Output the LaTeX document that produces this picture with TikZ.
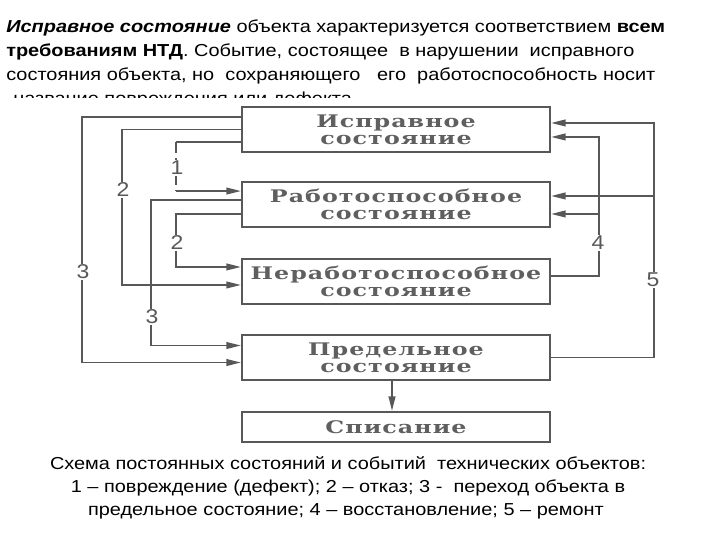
\documentclass[tikz,border=0pt]{standalone}
\usepackage{fontspec}
\setmainfont{Liberation Sans}[FakeStretch=1.15]
\newfontfamily\statefont{DejaVu Serif}[FakeStretch=1.37,LetterSpace=6]
\usetikzlibrary{arrows.meta,positioning}
\definecolor{inkgray}{RGB}{88,88,88}
\definecolor{boxtext}{RGB}{95,95,95}
\tikzset{
  statebox/.style={
    rectangle,
    draw=inkgray,
    line width=1.5pt,
    text=boxtext,
    align=center,
    minimum width=231pt,
    minimum height=33.75pt,
    inner sep=0pt,
    font=\statefont\bfseries\fontsize{13}{13}\selectfont
  },
  endbox/.style={statebox, minimum height=22.5pt},
  link/.style={-{Triangle[length=11pt,width=5pt]}, draw=inkgray, line width=1.4pt},
  bareline/.style={draw=inkgray, line width=1.4pt},
  eventnum/.style={fill=white, inner sep=1pt, text=inkgray, font=\fontsize{15}{15}\selectfont},
  textline/.style={anchor=base west, inner sep=0pt, font=\fontsize{13}{18}\selectfont},
  captionline/.style={anchor=base, inner sep=0pt, font=\fontsize{13}{18}\selectfont}
}
\begin{document}
\begin{tikzpicture}[x=0.75pt, y=-0.75pt]
  \useasboundingbox (0,0) rectangle (720,540);
  % definition above the scheme
  \node[textline] (def1) at (6,32) {\textbf{\textit{Исправное состояние}} объекта характеризуется соответствием \textbf{всем}};
  \node[textline] (def2) at (6,56) {\textbf{требованиям НТД}. Событие, состоящее\ \ в нарушении\ \ исправного};
  \node[textline] (def3) at (6,80) {состояния объекта, но\ \ сохраняющего\ \ \ его\ \ работоспособность носит};
  \begin{scope}
    \clip (0,0) rectangle (720,97);
    \node[textline] (def4) at (13,104) {название повреждения или дефекта};
  \end{scope}

  % states
  \node[statebox] (good) at (396,129.5) {Исправное\\состояние};
  \node[statebox, below=21pt of good] (workable) {Работоспособное\\состояние};
  \node[statebox, below=22.5pt of workable] (faulty) {Неработоспособное\\состояние};
  \node[statebox, below=21.75pt of faulty] (limit) {Предельное\\состояние};
  \node[endbox, below=22.5pt of limit] (writeoff) {Списание};

  % ports on the box sides
  \coordinate (w1in) at ([yshift=10.1pt]workable.west);
  \coordinate (w4in) at ([yshift=-7.1pt]workable.east);
  \coordinate (w5in) at ([yshift=6.4pt]workable.east);

  % events on the left
  \draw[link] ([yshift=9.4pt]good.west) -- ++(-159,0) coordinate (turn3a) |- ([yshift=-3.75pt]limit.west);
  \draw[link] (good.west) -- ++(-119,0) coordinate (turn2a) |- ([yshift=-2.6pt]faulty.west);
  \draw[bareline] ([yshift=-9.4pt]good.west) -- ++(-65,0) coordinate (turn1a);
  \draw[bareline, dash pattern=on 8pt off 4pt] (turn1a) -- (turn1a |- w1in) coordinate (turn1b);
  \draw[link] (turn1b) -- (w1in);
  \draw[link] ([yshift=3.4pt]workable.west) -- ++(-90,0) coordinate (turn3b) |- ([yshift=9pt]limit.west);
  \draw[link] ([yshift=-7.1pt]workable.west) -- ++(-65,0) coordinate (turn2b) |- ([yshift=10.9pt]faulty.west);
  \node[eventnum] (n3a) at (83,272) {3};
  \node[eventnum] (n2a) at (123,190) {2};
  \node[eventnum] (n1) at (177,168) {1};
  \node[eventnum] (n3b) at (152,317) {3};
  \node[eventnum] (n2b) at (177,243) {2};

  % events on the right
  \draw[link] ([yshift=4.1pt]faulty.east) -- ++(48,0) coordinate (turn4) |- ([yshift=-5.6pt]good.east);
  \draw[link] (turn4 |- w4in) -- (w4in);
  \draw[link] (limit.east) -- ++(103,0) coordinate (turn5) |- ([yshift=4.9pt]good.east);
  \draw[link] (turn5 |- w5in) -- (w5in);
  \node[eventnum] (n4) at (598,243) {4};
  \node[eventnum] (n5) at (653,280) {5};

  \draw[link] ([xshift=-3pt]limit.south) -- ([xshift=-3pt]writeoff.north);

  % caption
  \node[captionline] (cap1) at (348,469) {Схема постоянных состояний и событий\ \ технических объектов:};
  \node[captionline] (cap2) at (348,492) {1 – повреждение (дефект); 2 – отказ; 3 -\ \ переход объекта в};
  \node[captionline] (cap3) at (346,515) {предельное состояние; 4 – восстановление; 5 – ремонт};
\end{tikzpicture}
\end{document}
